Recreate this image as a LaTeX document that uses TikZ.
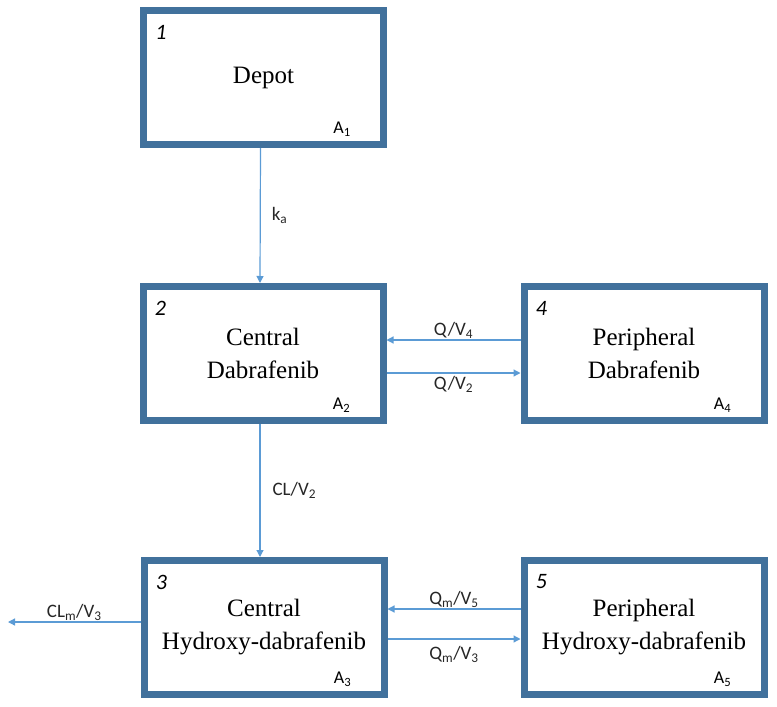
\documentclass[tikz,border=0pt]{standalone}
\usepackage{fontspec}
\setmainfont{Liberation Serif}
\newfontfamily\lblfont{Carlito}
\usetikzlibrary{arrows.meta}
\definecolor{boxblue}{HTML}{41719C}
\definecolor{arrowblue}{HTML}{5B9BD5}
\begin{document}
\begin{tikzpicture}[x=1pt,y=-1pt,
  comp/.style={draw=boxblue, line width=7pt, minimum width=240pt, minimum height=134pt,
    align=center, inner sep=0pt, font=\fontsize{25}{33}\selectfont},
  num/.style={inner sep=0pt, font=\lblfont\itshape\fontsize{22}{22}\selectfont},
  amt/.style={inner sep=0pt, font=\lblfont\fontsize{18}{18}\selectfont},
  flow/.style={draw=arrowblue, line width=1.2pt, -{Triangle[width=7pt,length=7pt]}},
  rate/.style={inner sep=1pt, text=black!85, font=\lblfont\fontsize{19}{19}\selectfont}]
\useasboundingbox (0,0) rectangle (777,707);

\node[comp] (c1) at (263.5,77.5) {Depot};
\node[comp] (c2) at (263,353.5) {Central\\Dabrafenib};
\node[comp] (c3) at (264,627.5) {Central\\Hydroxy-dabrafenib};
\node[comp] (c4) at (644,353.5) {Peripheral\\Dabrafenib};
\node[comp] (c5) at (644,627.5) {Peripheral\\Hydroxy-dabrafenib};

\node[num] (n1) at ([shift={(21,25)}]c1.north west) {1};
\node[num] (n2) at ([shift={(21,25)}]c2.north west) {2};
\node[num] (n3) at ([shift={(21,25)}]c3.north west) {3};
\node[num] (n4) at ([shift={(21,25)}]c4.north west) {4};
\node[num] (n5) at ([shift={(21,25)}]c5.north west) {5};

\node[amt] (a1) at ([shift={(-45,-19)}]c1.south east) {A\textsubscript{1}};
\node[amt] (a2) at ([shift={(-45,-19)}]c2.south east) {A\textsubscript{2}};
\node[amt] (a3) at ([shift={(-45,-19)}]c3.south east) {A\textsubscript{3}};
\node[amt] (a4) at ([shift={(-45,-19)}]c4.south east) {A\textsubscript{4}};
\node[amt] (a5) at ([shift={(-45,-19)}]c5.south east) {A\textsubscript{5}};

\coordinate (out) at (8,622);

\path
([xshift=-3pt]c1.south) edge[flow] node[rate, right=10pt] {k\textsubscript{a}} ([xshift=-3pt]c2.north)
([xshift=-3pt]c2.south) edge[flow] node[rate, right=11pt] {CL/V\textsubscript{2}} ([xshift=-4pt]c3.north)
([yshift=13.5pt]c4.west) edge[flow] node[rate, above=0pt] {Q/V\textsubscript{4}} ([yshift=13.5pt]c2.east)
([yshift=-19.5pt]c2.east) edge[flow] node[rate, below=2pt] {Q/V\textsubscript{2}} ([yshift=-19.5pt]c4.west)
([yshift=18.5pt]c5.west) edge[flow] node[rate, above=0pt] {Q\textsubscript{m}/V\textsubscript{5}} ([yshift=18.5pt]c3.east)
([yshift=-11.5pt]c3.east) edge[flow] node[rate, below=6pt] {Q\textsubscript{m}/V\textsubscript{3}} ([yshift=-11.5pt]c5.west)
([yshift=5.5pt]c3.west) edge[flow] node[rate, above=0pt] {CL\textsubscript{m}/V\textsubscript{3}} (out);
\end{tikzpicture}
\end{document}
